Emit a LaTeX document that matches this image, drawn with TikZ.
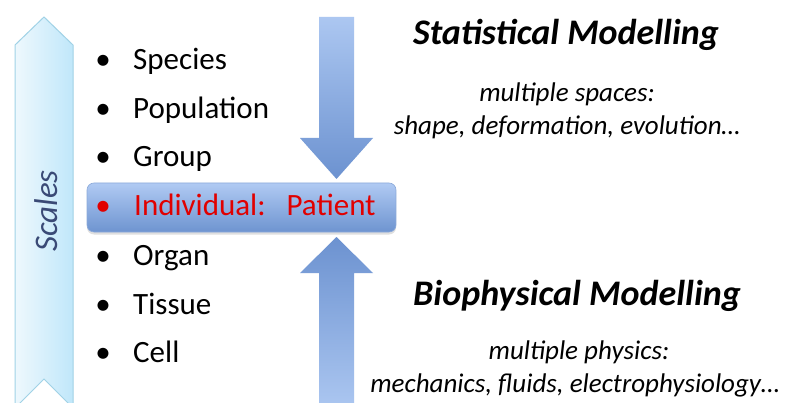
\documentclass[tikz,border=0pt]{standalone}
\usepackage{fontspec}
\setmainfont{Carlito}
\usetikzlibrary{shadows}
\definecolor{scaleL}{RGB}{238,248,253}
\definecolor{scaleR}{RGB}{192,231,250}
\definecolor{scaleB}{RGB}{160,210,230}
\definecolor{arrLight}{RGB}{172,199,241}
\definecolor{arrDark}{RGB}{108,146,208}
\definecolor{boxTop}{RGB}{176,202,243}
\definecolor{boxBot}{RGB}{110,148,208}
\definecolor{boxLine}{RGB}{140,170,218}
\definecolor{patred}{RGB}{225,0,0}
\definecolor{scaletxt}{RGB}{58,74,118}
\tikzset{
  item/.style={anchor=base west, inner sep=0pt, font=\fontsize{31}{37}\selectfont},
  bul/.style={anchor=base, inner sep=0pt, font=\fontsize{31}{37}\selectfont},
  title/.style={anchor=base, inner sep=0pt, font=\fontsize{36}{42}\selectfont\bfseries\itshape},
  sub/.style={anchor=base, inner sep=0pt, font=\fontsize{27}{32}\selectfont\itshape},
}
\begin{document}
\begin{tikzpicture}[x=1pt,y=-1pt]
\useasboundingbox (0,0) rectangle (786,403);
\fill[white] (0,0) rectangle (786,403);
% Scales arrow
\shade[left color=scaleL, right color=scaleR, draw=scaleB, line width=1pt]
  (15,45) -- (44,17) -- (73,45) -- (73,408) -- (44,379) -- (15,408) -- cycle;
\node[rotate=90, inner sep=0pt, text=scaletxt, font=\fontsize{33}{38}\selectfont\itshape] (scales) at (46,211) {Scales};
% down arrow
\shade[top color=arrLight, bottom color=arrDark]
  (319,17) -- (354,17) -- (354,138) -- (373,138) -- (336.5,179) -- (300,138) -- (319,138) -- cycle;
% up arrow
\shade[top color=arrDark, bottom color=arrLight]
  (336.5,237) -- (373,273) -- (354,273) -- (354,410) -- (319,410) -- (319,273) -- (300,273) -- cycle;
% highlighted box
\shade[top color=boxTop, bottom color=boxBot, draw=boxLine, line width=0.6pt, rounded corners=7pt,
  drop shadow={opacity=0.25, shadow xshift=0pt, shadow yshift=-2.5pt}]
  (87,183) rectangle (396,232);
% list
\node[bul] (b1) at (103,69.5) {•};
\node[item] (t1) at (133,69.5) {Species};
\node[bul] (b2) at (103,118.3) {•};
\node[item] (t2) at (133,118.3) {Population};
\node[bul] (b3) at (103,167) {•};
\node[item] (t3) at (133,167) {Group};
\node[bul, text=patred] (b4) at (103,216) {•};
\node[item, text=patred] (t4) at (134,216) {Individual:\ \ \ Patient};
\node[bul] (b5) at (103,265) {•};
\node[item] (t5) at (133,265) {Organ};
\node[bul] (b6) at (103,314) {•};
\node[item] (t6) at (133,314) {Tissue};
\node[bul] (b7) at (103,362.5) {•};
\node[item] (t7) at (133,362.5) {Cell};
% right texts
\node[title] (stat) at (566,45) {Statistical Modelling};
\node[sub] (stat1) at (567,102) {multiple spaces:};
\node[sub] (stat2) at (567,135) {shape, deformation, evolution…};
\node[title] (bio) at (577,305) {Biophysical Modelling};
\node[sub] (bio1) at (579,359) {multiple physics:};
\node[sub] (bio2) at (575,392) {mechanics, fluids, electrophysiology…};
\end{tikzpicture}
\end{document}
